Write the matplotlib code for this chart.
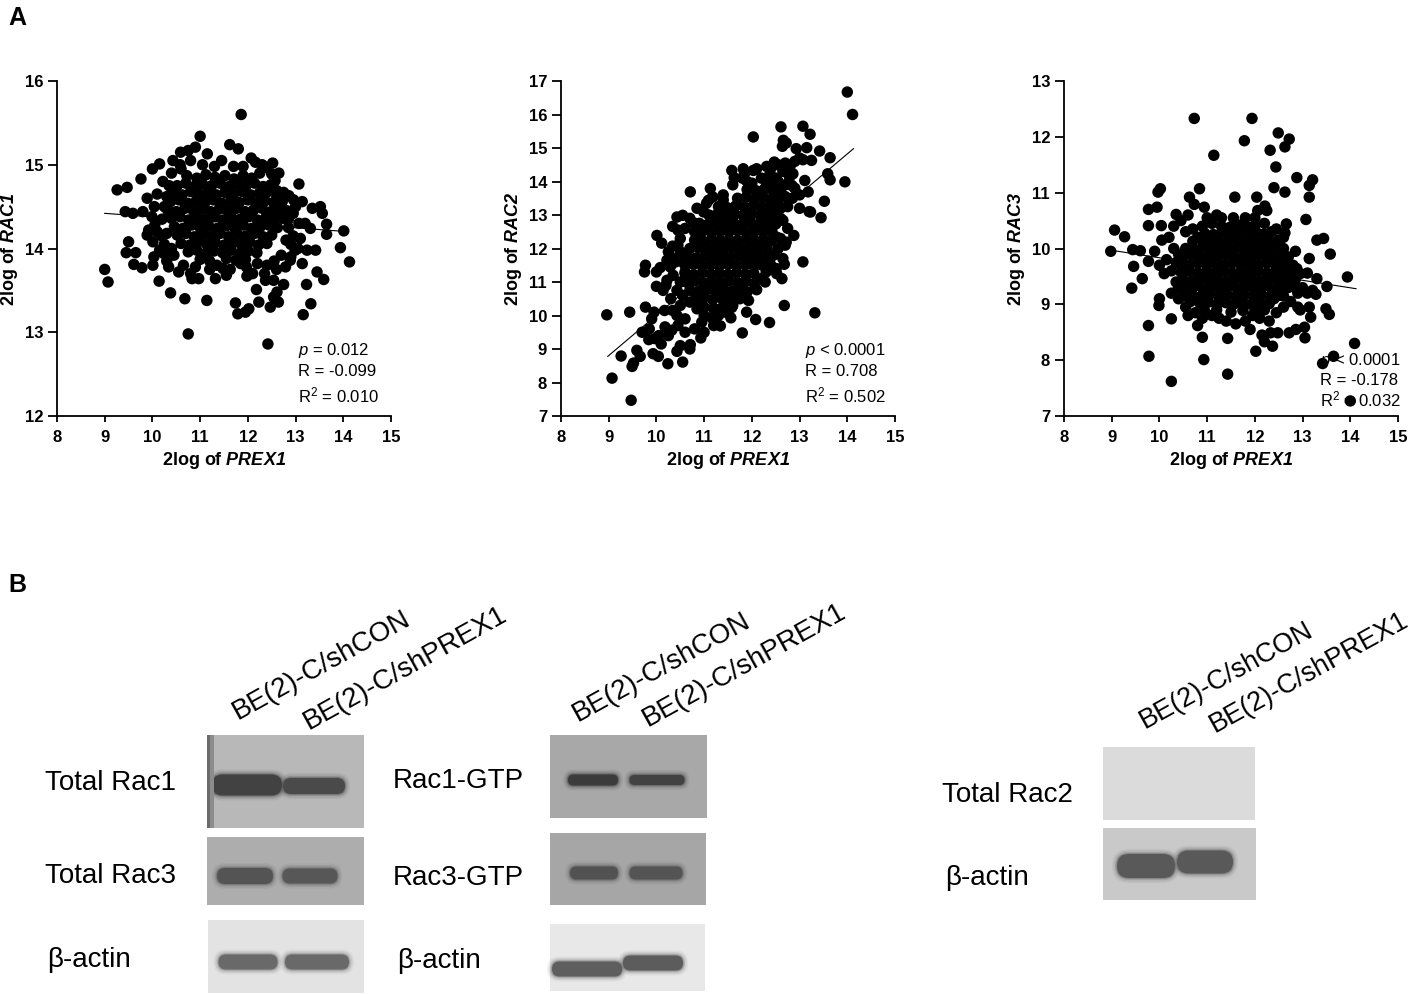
import numpy as np
import matplotlib
matplotlib.use("Agg")
import matplotlib.pyplot as plt
from matplotlib.patches import Rectangle, FancyBboxPatch

plt.rcParams['font.family'] = ['Liberation Sans', 'DejaVu Sans']
plt.rcParams['mathtext.fontset'] = 'custom'
plt.rcParams['mathtext.rm'] = 'Liberation Sans'
plt.rcParams['mathtext.it'] = 'Liberation Sans:italic'
plt.rcParams['mathtext.bf'] = 'Liberation Sans:italic:bold'

# ---------------- panel A data ----------------
rac1_pts = [
    # scattered points
    (11.86, 15.60), (11.00, 15.34), (11.62, 15.24), (11.80, 15.19), (10.75, 15.17), (10.90, 15.21), (10.59, 15.15), (11.15, 15.13),
    (9.26, 14.70), (9.47, 14.73), (9.76, 14.83), (10.00, 14.95), (10.15, 15.01), (10.43, 15.05), (12.07, 15.08), (12.16, 15.03),
    (12.52, 15.02), (12.38, 14.97), (13.07, 14.77), (13.14, 14.56), (13.52, 14.50), (13.56, 14.42), (13.65, 14.29), (13.65, 14.17),
    (14.01, 14.21), (13.94, 14.01), (14.13, 13.84), (13.45, 13.72), (13.59, 13.63), (13.23, 13.57), (13.32, 13.34), (13.16, 13.21),
    (12.75, 13.57), (12.61, 13.48), (12.54, 13.42), (12.64, 13.36), (12.47, 13.30), (12.54, 13.62), (12.37, 13.62), (12.18, 13.51),
    (12.23, 13.36), (12.02, 13.28), (11.95, 13.24), (11.79, 13.22), (11.74, 13.35), (12.42, 12.86), (11.98, 13.67), (10.75, 12.98),
    (10.68, 13.40), (11.14, 13.38), (10.38, 13.47), (10.14, 13.61), (9.00, 13.75), (9.07, 13.60), (9.45, 13.95), (9.50, 14.08),
    (9.65, 13.95), (9.61, 13.81), (9.78, 13.77), (9.43, 14.44), (9.59, 14.42), (9.80, 14.44), (9.89, 14.60), (10.04, 14.50),
    (9.99, 14.38), (9.92, 14.22), (9.89, 14.16), (10.01, 14.08), (10.03, 13.90), (10.01, 13.80), (10.34, 13.78), (10.24, 13.94),
    (10.10, 14.20), (10.80, 13.70), (10.83, 13.64), (10.97, 13.64), (11.32, 13.64), (11.48, 13.76), (11.63, 13.75), (11.97, 13.78),
    (12.79, 13.78), (12.89, 13.86), (13.14, 13.82), (12.99, 13.98), (13.24, 13.98), (13.42, 13.98), (13.10, 14.12), (13.07, 14.30),
    (13.31, 14.24), (13.35, 14.48), (12.96, 14.58), (12.86, 14.63), (12.75, 14.67), (12.61, 14.69), (12.57, 14.81), (12.50, 14.89),
    (10.20, 14.35), (10.25, 14.05), (10.15, 13.98), (10.30, 14.62), (10.22, 14.80), (10.40, 14.90), (10.58, 15.00), (10.80, 15.05),
    (11.05, 15.00), (11.30, 14.98), (11.45, 15.05), (11.70, 14.98), (11.90, 14.98), (12.25, 14.90), (12.70, 14.45), (12.85, 14.25),
    (12.90, 14.05), (12.70, 13.92), (12.55, 13.85), (12.40, 13.80), (12.20, 13.82), (11.85, 13.82), (11.35, 13.80), (10.65, 13.80),
    (10.45, 13.92), (10.55, 13.72), (12.95, 14.42), (12.80, 14.10), (10.10, 14.65), (10.30, 14.18), (10.36, 14.40), (12.35, 13.70),
    (11.55, 13.68), (11.20, 13.75), (10.90, 13.78), (12.10, 13.70), (13.20, 14.30), (13.00, 14.50), (10.05, 14.28),
    (10.25, 14.50), (10.20, 14.15), (10.35, 14.75), (12.85, 14.35), (12.95, 14.15), (13.05, 14.00), (12.90, 13.90), (12.60, 13.75),
    (10.40, 14.00), (10.30, 13.85), (12.65, 14.90), (10.60, 14.95), (12.30, 15.00),
    # dense centre
    (10.72, 14.87), (10.93, 14.84), (11.12, 14.88), (11.31, 14.85), (11.52, 14.87), (11.71, 14.83), (11.90, 14.87), (12.08, 14.84),
    (10.52, 14.75), (10.70, 14.78), (10.88, 14.74), (11.05, 14.77), (11.24, 14.75), (11.42, 14.78), (11.60, 14.74), (11.78, 14.77),
    (11.96, 14.75), (12.14, 14.78), (12.32, 14.74), (12.48, 14.76),
    (10.44, 14.66), (10.62, 14.64), (10.80, 14.68), (10.98, 14.65), (11.16, 14.67), (11.34, 14.64), (11.52, 14.67), (11.70, 14.65),
    (11.88, 14.68), (12.06, 14.64), (12.24, 14.66), (12.42, 14.68), (12.60, 14.64),
    (10.38, 14.56), (10.56, 14.58), (10.74, 14.54), (10.92, 14.57), (11.10, 14.55), (11.28, 14.58), (11.46, 14.54), (11.64, 14.57),
    (11.82, 14.55), (12.00, 14.58), (12.18, 14.54), (12.36, 14.57), (12.54, 14.55), (12.72, 14.56),
    (10.32, 14.46), (10.50, 14.44), (10.68, 14.48), (10.86, 14.45), (11.04, 14.47), (11.22, 14.44), (11.40, 14.47), (11.58, 14.45),
    (11.76, 14.48), (11.94, 14.44), (12.12, 14.46), (12.30, 14.48), (12.48, 14.44), (12.66, 14.47), (12.82, 14.45),
    (10.40, 14.36), (10.58, 14.38), (10.76, 14.34), (10.94, 14.37), (11.12, 14.35), (11.30, 14.38), (11.48, 14.34), (11.66, 14.37),
    (11.84, 14.35), (12.02, 14.38), (12.20, 14.34), (12.38, 14.37), (12.56, 14.35), (12.74, 14.36),
    (10.46, 14.26), (10.64, 14.24), (10.82, 14.28), (11.00, 14.25), (11.18, 14.27), (11.36, 14.24), (11.54, 14.27), (11.72, 14.25),
    (11.90, 14.28), (12.08, 14.24), (12.26, 14.26), (12.44, 14.28), (12.62, 14.25),
    (10.52, 14.16), (10.70, 14.18), (10.88, 14.14), (11.06, 14.17), (11.24, 14.15), (11.42, 14.18), (11.60, 14.14), (11.78, 14.17),
    (11.96, 14.15), (12.14, 14.18), (12.32, 14.14), (12.50, 14.16),
    (10.60, 14.06), (10.78, 14.04), (10.96, 14.08), (11.14, 14.05), (11.32, 14.07), (11.50, 14.04), (11.68, 14.07), (11.86, 14.05),
    (12.04, 14.08), (12.22, 14.04), (12.40, 14.06),
    (10.75, 13.96), (10.93, 13.98), (11.11, 13.94), (11.29, 13.97), (11.47, 13.95), (11.65, 13.98), (11.83, 13.94), (12.01, 13.97),
    (12.19, 13.95), (11.00, 13.87), (11.20, 13.85), (11.55, 13.88), (11.75, 13.86), (11.95, 13.87),
]

rac2_pts = [
    (14.00, 16.67), (14.11, 16.00), (12.03, 15.33), (12.61, 15.63), (13.07, 15.65), (13.22, 15.41), (12.66, 15.23), (12.72, 15.15),
    (12.64, 15.05), (12.93, 14.98), (13.15, 15.01), (13.42, 14.91), (13.64, 14.71), (13.59, 14.23), (13.64, 14.05), (13.95, 13.99),
    (13.52, 13.41), (13.45, 12.92), (13.23, 13.09), (13.18, 13.69), (13.11, 14.03), (13.07, 14.65), (13.25, 14.63), (13.07, 11.60),
    (12.68, 11.53), (12.68, 10.30), (13.32, 10.08), (12.37, 9.79), (12.08, 9.88), (11.80, 9.48), (11.89, 10.10), (11.56, 9.93),
    (11.34, 9.69), (11.16, 9.93), (10.93, 9.33), (10.71, 9.13), (10.55, 8.61), (10.24, 8.56), (10.43, 8.93), (10.04, 8.78),
    (9.93, 8.86), (9.84, 9.28), (9.97, 9.31), (9.66, 8.78), (9.59, 8.96), (9.52, 8.58), (9.49, 8.48), (9.44, 10.10),
    (9.26, 8.79), (8.96, 10.02), (9.07, 8.13), (9.47, 7.47), (9.77, 10.25), (9.77, 11.50), (9.75, 11.30), (10.01, 12.39),
    (10.11, 12.16), (10.00, 11.30), (10.08, 11.43), (10.00, 10.87), (10.14, 10.75), (10.34, 12.66), (10.43, 12.94), (10.55, 12.99),
    (10.34, 12.07), (10.22, 11.65), (10.29, 11.45), (10.22, 11.05), (10.43, 10.75), (10.34, 10.15), (10.17, 10.15), (10.43, 10.00),
    (10.18, 9.66), (10.32, 9.56), (10.71, 13.69), (11.13, 13.79), (11.18, 13.54), (11.09, 13.44), (10.99, 13.09), (10.79, 12.76),
    (11.58, 14.33), (11.63, 14.11), (11.82, 14.38), (11.84, 14.21), (12.03, 14.33), (12.10, 14.38), (12.31, 14.45), (12.47, 14.58),
    (12.31, 13.94), (12.38, 14.23), (12.86, 14.23), (12.79, 14.13), (12.84, 13.88), (12.52, 13.14), (12.65, 12.84), (12.72, 12.19),
    (12.88, 12.39), (12.52, 12.34), (12.45, 11.80), (12.51, 11.40), (12.63, 11.10), (12.52, 11.25), (12.28, 11.00), (12.10, 10.77),
    (11.93, 10.45),
    (12.40, 14.40), (12.55, 14.50), (12.70, 14.55), (12.90, 14.60), (13.00, 14.70), (12.80, 14.45), (12.65, 14.30), (12.50, 14.10),
    (12.70, 13.90), (12.90, 13.80), (13.00, 13.60), (12.85, 13.50), (12.75, 13.25), (13.00, 13.20), (13.20, 13.10), (12.60, 12.90),
    (12.75, 12.60), (12.60, 12.30), (12.55, 12.00), (12.65, 11.70), (12.40, 11.50), (12.30, 11.30), (12.20, 11.10), (12.05, 10.95),
    (11.90, 10.70), (11.75, 10.50), (11.60, 10.30), (11.45, 10.10), (11.20, 10.20), (11.00, 10.00), (10.85, 10.20), (10.70, 10.40),
    (10.60, 9.90), (10.50, 10.30), (10.45, 9.70), (10.60, 9.50), (10.80, 9.60), (10.95, 9.80), (10.30, 10.50), (10.20, 10.90),
    (10.35, 11.20), (10.40, 11.60), (10.25, 11.90), (10.50, 12.30), (10.60, 12.60), (10.70, 12.90), (10.85, 13.20), (10.90, 12.40),
    (11.40, 13.60), (11.60, 13.90), (11.80, 14.10), (12.00, 13.95), (12.20, 14.10), (11.30, 13.00), (10.50, 11.00), (9.85, 9.60),
    (9.90, 9.90), (10.05, 9.40), (10.10, 9.15), (9.95, 10.10), (10.25, 9.40), (9.70, 9.50), (10.50, 9.10), (10.70, 9.00),
    (11.00, 9.50), (11.20, 9.70),
    (10.55, 11.60), (10.50, 11.90), (10.45, 12.10), (10.60, 11.30), (10.55, 10.60), (12.60, 13.20), (12.70, 13.55), (12.55, 14.00),
    (12.45, 13.90), (12.70, 12.10), (12.40, 11.75), (11.05, 13.35), (11.40, 13.45), (11.90, 14.00), (10.95, 10.30), (11.30, 10.00),
    (10.35, 11.70), (10.45, 12.55),
    # dense centre
    (11.90, 13.76), (12.08, 13.73), (12.26, 13.77), (12.44, 13.74), (12.60, 13.76),
    (11.70, 13.50), (11.88, 13.53), (12.06, 13.48), (12.24, 13.52), (12.42, 13.49), (12.60, 13.51),
    (11.30, 13.25), (11.48, 13.22), (11.66, 13.27), (11.84, 13.24), (12.02, 13.26), (12.20, 13.23), (12.38, 13.27), (12.56, 13.24),
    (11.10, 13.00), (11.28, 13.03), (11.46, 12.98), (11.64, 13.02), (11.82, 12.99), (12.00, 13.03), (12.18, 12.98), (12.36, 13.01),
    (12.50, 12.99),
    (10.90, 12.75), (11.08, 12.72), (11.26, 12.77), (11.44, 12.74), (11.62, 12.76), (11.80, 12.73), (11.98, 12.77), (12.16, 12.74),
    (12.34, 12.76), (12.50, 12.73),
    (10.80, 12.50), (10.98, 12.53), (11.16, 12.48), (11.34, 12.52), (11.52, 12.49), (11.70, 12.53), (11.88, 12.48), (12.06, 12.52),
    (12.24, 12.49), (12.42, 12.51),
    (10.80, 12.25), (10.98, 12.22), (11.16, 12.27), (11.34, 12.24), (11.52, 12.26), (11.70, 12.23), (11.88, 12.27), (12.06, 12.24),
    (12.24, 12.26), (12.40, 12.23),
    (10.70, 12.00), (10.88, 12.03), (11.06, 11.98), (11.24, 12.02), (11.42, 11.99), (11.60, 12.03), (11.78, 11.98), (11.96, 12.02),
    (12.14, 11.99), (12.32, 12.01),
    (10.65, 11.75), (10.83, 11.72), (11.01, 11.77), (11.19, 11.74), (11.37, 11.76), (11.55, 11.73), (11.73, 11.77), (11.91, 11.74),
    (12.09, 11.76), (12.27, 11.73),
    (10.60, 11.50), (10.78, 11.53), (10.96, 11.48), (11.14, 11.52), (11.32, 11.49), (11.50, 11.53), (11.68, 11.48), (11.86, 11.52),
    (12.04, 11.49), (12.20, 11.51),
    (10.60, 11.25), (10.78, 11.22), (10.96, 11.27), (11.14, 11.24), (11.32, 11.26), (11.50, 11.23), (11.68, 11.27), (11.86, 11.24),
    (12.04, 11.26),
    (10.62, 11.00), (10.80, 11.03), (10.98, 10.98), (11.16, 11.02), (11.34, 10.99), (11.52, 11.03), (11.70, 10.98), (11.88, 11.02),
    (10.70, 10.75), (10.88, 10.72), (11.06, 10.77), (11.24, 10.74), (11.42, 10.76), (11.60, 10.73), (11.80, 10.77),
    (10.82, 10.50), (11.00, 10.53), (11.18, 10.48), (11.36, 10.52), (11.54, 10.49), (11.70, 10.51),
    (11.00, 10.25), (11.20, 10.22), (11.40, 10.27), (11.58, 10.24),
]

rac3_pts = [
    (10.73, 12.33), (11.94, 12.33), (12.49, 12.07), (12.72, 11.96), (11.78, 11.93), (12.63, 11.82), (12.32, 11.76), (11.14, 11.67),
    (12.44, 11.46), (12.88, 11.27), (13.21, 11.23), (13.14, 11.13), (12.40, 11.09), (12.63, 11.01), (13.14, 10.92), (13.07, 10.52),
    (12.66, 10.44), (12.63, 10.28), (12.04, 10.92), (11.58, 10.92), (12.21, 10.76), (12.25, 10.68), (12.06, 10.68), (10.84, 11.07),
    (10.63, 10.92), (10.73, 10.79), (10.94, 10.74), (10.02, 11.07), (9.97, 11.01), (9.95, 10.74), (9.77, 10.70), (10.35, 10.61),
    (10.04, 10.41), (9.77, 10.41), (9.27, 10.21), (9.06, 10.33), (8.98, 9.95), (9.44, 9.98), (9.60, 9.96), (9.46, 9.68),
    (9.42, 9.29), (9.64, 9.46), (9.77, 9.77), (9.77, 8.62), (9.78, 8.07), (10.25, 7.62), (10.25, 8.74), (10.00, 9.10),
    (9.99, 8.98), (10.93, 8.01), (11.43, 7.75), (11.43, 8.39), (10.80, 8.62), (10.90, 8.41), (12.02, 8.16), (12.20, 8.33),
    (12.37, 8.25), (12.48, 8.49), (12.33, 8.49), (12.72, 8.49), (12.86, 8.55), (13.05, 8.40), (13.04, 8.59), (13.42, 7.94),
    (13.65, 8.07), (14.09, 8.30), (14.00, 7.27), (13.94, 9.49), (13.56, 8.82), (13.49, 8.92), (13.51, 9.32), (13.28, 9.18),
    (13.58, 9.90), (13.44, 10.18), (13.30, 10.15), (13.14, 9.82), (13.30, 9.46), (13.10, 9.56), (12.85, 9.95), (12.88, 9.64),
    (12.90, 8.95), (13.17, 8.77), (13.14, 8.95), (13.21, 9.25),
    (10.20, 10.20), (10.30, 10.00), (10.15, 9.80), (10.25, 9.60), (10.10, 9.55), (10.00, 9.70), (9.90, 9.95), (10.05, 10.15),
    (10.35, 9.40), (10.25, 9.20), (10.40, 9.10), (10.55, 8.95), (10.60, 8.80), (10.75, 8.85), (10.90, 8.75), (11.10, 8.80),
    (11.25, 8.75), (11.40, 8.70), (11.60, 8.65), (11.80, 8.70), (11.95, 8.80), (12.10, 8.75), (12.30, 8.70), (12.45, 8.85),
    (12.60, 8.95), (12.75, 9.05), (12.90, 9.20), (13.00, 9.30), (12.85, 9.45), (12.95, 9.55), (12.80, 9.70), (12.70, 9.85),
    (12.60, 10.00), (12.50, 10.15), (12.35, 10.30), (12.20, 10.45), (12.00, 10.55), (11.80, 10.55), (11.55, 10.55), (11.30, 10.55),
    (11.10, 10.45), (10.90, 10.40), (10.70, 10.35), (10.55, 10.30), (10.45, 10.50), (10.60, 10.60), (10.80, 10.20), (12.40, 9.10),
    (12.20, 8.90), (13.10, 9.20), (12.95, 8.90), (11.90, 8.55), (12.15, 8.45),
    (10.30, 10.40), (10.40, 9.90), (10.35, 9.75), (10.40, 9.30), (12.70, 9.55), (12.85, 9.30), (12.60, 9.15), (10.50, 9.15),
    (10.65, 9.05), (11.00, 10.55), (11.20, 10.60), (12.45, 10.35), (12.60, 10.20),
    # dense centre
    (11.30, 10.40), (11.48, 10.38), (11.66, 10.42), (11.84, 10.39), (12.00, 10.41),
    (10.95, 10.27), (11.13, 10.25), (11.31, 10.29), (11.49, 10.26), (11.67, 10.28), (11.85, 10.25), (12.03, 10.29), (12.20, 10.26),
    (10.70, 10.13), (10.88, 10.15), (11.06, 10.11), (11.24, 10.14), (11.42, 10.12), (11.60, 10.15), (11.78, 10.11), (11.96, 10.14),
    (12.14, 10.12), (12.30, 10.14),
    (10.55, 10.00), (10.73, 9.98), (10.91, 10.02), (11.09, 9.99), (11.27, 10.01), (11.45, 9.98), (11.63, 10.02), (11.81, 9.99),
    (11.99, 10.01), (12.17, 9.98), (12.35, 10.02), (12.45, 9.99),
    (10.50, 9.86), (10.68, 9.88), (10.86, 9.84), (11.04, 9.87), (11.22, 9.85), (11.40, 9.88), (11.58, 9.84), (11.76, 9.87),
    (11.94, 9.85), (12.12, 9.88), (12.30, 9.84), (12.50, 9.86),
    (10.45, 9.72), (10.63, 9.70), (10.81, 9.74), (10.99, 9.71), (11.17, 9.73), (11.35, 9.70), (11.53, 9.74), (11.71, 9.71),
    (11.89, 9.73), (12.07, 9.70), (12.25, 9.74), (12.43, 9.71), (12.60, 9.72),
    (10.45, 9.58), (10.63, 9.60), (10.81, 9.56), (10.99, 9.59), (11.17, 9.57), (11.35, 9.60), (11.53, 9.56), (11.71, 9.59),
    (11.89, 9.57), (12.07, 9.60), (12.25, 9.56), (12.43, 9.59), (12.61, 9.57), (12.72, 9.58),
    (10.50, 9.44), (10.68, 9.42), (10.86, 9.46), (11.04, 9.43), (11.22, 9.45), (11.40, 9.42), (11.58, 9.46), (11.76, 9.43),
    (11.94, 9.45), (12.12, 9.42), (12.30, 9.46), (12.48, 9.43), (12.66, 9.45), (12.76, 9.44),
    (10.55, 9.30), (10.73, 9.32), (10.91, 9.28), (11.09, 9.31), (11.27, 9.29), (11.45, 9.32), (11.63, 9.28), (11.81, 9.31),
    (11.99, 9.29), (12.17, 9.32), (12.35, 9.28), (12.53, 9.31), (12.70, 9.30),
    (10.70, 9.16), (10.88, 9.14), (11.06, 9.18), (11.24, 9.15), (11.42, 9.17), (11.60, 9.14), (11.78, 9.18), (11.96, 9.15),
    (12.14, 9.17), (12.32, 9.14), (12.50, 9.16),
    (10.85, 9.02), (11.03, 9.04), (11.21, 9.00), (11.39, 9.03), (11.57, 9.01), (11.75, 9.04), (11.93, 9.00), (12.11, 9.03),
    (12.30, 9.01), (10.95, 8.88), (11.20, 8.90), (11.50, 8.86), (11.75, 8.89), (12.00, 8.87),
]

# regression lines (end points)
rac1_fit_x, rac1_fit_y = [9.0, 14.11], [14.42, 14.20]
rac2_fit_x, rac2_fit_y = [8.98, 14.13], [8.78, 14.98]
rac3_fit_x, rac3_fit_y = [9.06, 14.12], [9.96, 9.28]

genes = ["RAC1", "RAC2", "RAC3"]
y_limits = [(12, 16), (7, 17), (7, 13)]
stats = [("= 0.012", "-0.099", "0.010"),
         ("< 0.0001", "0.708", "0.502"),
         ("< 0.0001", "-0.178", "0.032")]

# ---------------- panel B data ----------------
lane_names = ["BE(2)-C/shCON", "BE(2)-C/shPREX1"]
band_gray = {
    "Total Rac1": [0.26, 0.29],
    "Total Rac3": [0.33, 0.34],
    "actin1": [0.41, 0.41],
    "Rac1-GTP": [0.23, 0.26],
    "Rac3-GTP": [0.32, 0.33],
    "actin2": [0.37, 0.36],
    "Total Rac2": [],
    "actin3": [0.35, 0.35],
}
background_gray = {
    "Total Rac1": 0.72, "Total Rac3": 0.68, "actin1": 0.89,
    "Rac1-GTP": 0.66, "Rac3-GTP": 0.65, "actin2": 0.91,
    "Total Rac2": 0.86, "actin3": 0.79,
}

fig = plt.figure(figsize=(14.17, 9.94), dpi=100)
W, H = 1417, 994

# full-figure canvas in pixel coords for the blots
bax = fig.add_axes([0, 0, 1, 1])
bax.set_xlim(0, W)
bax.set_ylim(H, 0)
bax.axis("off")


def blot(key, x0, x1, y0, y1, bands):
    bax.add_patch(Rectangle((x0, y0), x1 - x0, y1 - y0, fc=str(background_gray[key]), ec="none"))
    for (cx, cy, w, h), g in zip(bands, band_gray[key]):
        # soft edges: a few wider, faint copies under the band
        for grow, a in [(5, 0.08), (3.5, 0.12), (2, 0.2), (1, 0.35), (0, 1.0)]:
            ww, hh = w + 2 * grow, h + 2 * grow
            bax.add_patch(FancyBboxPatch((cx - ww / 2, cy - hh / 2), ww, hh,
                                         boxstyle=f"round,pad=0,rounding_size={hh / 2}",
                                         fc=str(g), ec="none", alpha=a))


blot("Total Rac1", 207, 364, 735, 828, [(247, 785, 70, 21), (314, 786, 62, 16)])
bax.add_patch(Rectangle((207, 735), 3, 93, fc="0.42", ec="none"))
bax.add_patch(Rectangle((210, 735), 4, 93, fc="0.55", ec="none"))
blot("Total Rac3", 207, 364, 837, 905, [(245, 876, 56, 16), (310, 876, 55, 15)])
blot("actin1", 208, 364, 920, 993, [(248, 962, 59, 15), (317, 962, 64, 15)])
blot("Rac1-GTP", 550, 707, 735, 818, [(593, 780, 50, 11), (657, 780, 55, 10)])
blot("Rac3-GTP", 550, 706, 833, 905, [(594, 873, 48, 13), (656, 873, 53, 13)])
blot("actin2", 550, 705, 924, 991, [(587, 969, 70, 15), (653, 963, 60, 15)])
blot("Total Rac2", 1103, 1255, 747, 820, [])
blot("actin3", 1103, 1256, 828, 900, [(1146, 866, 58, 24), (1205, 862, 56, 23)])

row_labels = [("Total Rac1", 45, 790), ("Total Rac3", 45, 883), ("β-actin", 47, 967),
              ("Rac1-GTP", 393, 788), ("Rac3-GTP", 393, 885), ("β-actin", 397, 968),
              ("Total Rac2", 942, 802), ("β-actin", 945, 885)]
for txt, x, y in row_labels:
    bax.text(x, y, txt, fontsize=20, ha="left", va="baseline")

lane_pos = [((238, 720), (309, 730), 20), ((578, 722), (648, 727), 20), ((1145, 729), (1215, 733), 19.5)]
for (x1, y1), (x2, y2), fs in lane_pos:
    bax.text(x1, y1, lane_names[0], fontsize=fs, rotation=29, rotation_mode="anchor", ha="left", va="baseline")
    bax.text(x2, y2, lane_names[1], fontsize=fs, rotation=29, rotation_mode="anchor", ha="left", va="baseline")

bax.text(8, 25, "A", fontsize=18, fontweight="bold", ha="left", va="baseline")
bax.text(8, 592, "B", fontsize=18, fontweight="bold", ha="left", va="baseline")

# ---------------- scatter panels ----------------
lefts = [57, 561, 1064]
pts_all = [rac1_pts, rac2_pts, rac3_pts]
fits = [(rac1_fit_x, rac1_fit_y), (rac2_fit_x, rac2_fit_y), (rac3_fit_x, rac3_fit_y)]
text_base = [(0.722, [0.182, 0.119, 0.041]), (0.731, [0.182, 0.119, 0.041]), (0.767, [0.152, 0.093, 0.030])]

for i in range(3):
    ax = fig.add_axes([lefts[i] / W, 1 - 416 / H, 334 / W, 335 / H])
    pts = np.array(pts_all[i])
    ax.scatter(pts[:, 0], pts[:, 1], s=68, color="black", edgecolors="none", zorder=3, clip_on=False)
    ax.plot(fits[i][0], fits[i][1], color="black", lw=0.8, zorder=2)
    ax.set_xlim(8, 15)
    ax.set_ylim(*y_limits[i])
    ax.set_xticks(range(8, 16))
    lo, hi = y_limits[i]
    ax.set_yticks(range(lo, hi + 1))
    for s in ["top", "right"]:
        ax.spines[s].set_visible(False)
    for s in ["left", "bottom"]:
        ax.spines[s].set_linewidth(1.3)
    ax.tick_params(axis="x", length=4.5, width=1.3, pad=5.5, labelsize=12)
    ax.tick_params(axis="y", length=6.5, width=1.3, pad=3.5, labelsize=12)
    plt.setp(ax.get_xticklabels() + ax.get_yticklabels(), fontweight="bold")
    ax.patch.set_alpha(0)

    ax.text(0.5, -0.146, "2log of $\\mathbf{PREX1}$", transform=ax.transAxes, fontsize=13,
            fontweight="bold", ha="center", va="baseline")
    ax.text(-0.143, 0.5, "2log of $\\mathbf{" + genes[i] + "}$", transform=ax.transAxes, fontsize=13,
            fontweight="bold", ha="center", va="center", rotation=90)

    tx, tys = text_base[i]
    pval, rval, r2 = stats[i]
    ax.text(tx, tys[0], "$\\mathit{p}$ " + pval, transform=ax.transAxes, fontsize=12, zorder=1)
    ax.text(tx, tys[1], "R = " + rval, transform=ax.transAxes, fontsize=12, zorder=1)
    ax.text(tx, tys[2], "R$^2$ = " + r2, transform=ax.transAxes, fontsize=12, zorder=1)

fig.savefig("out.png", dpi=100)
